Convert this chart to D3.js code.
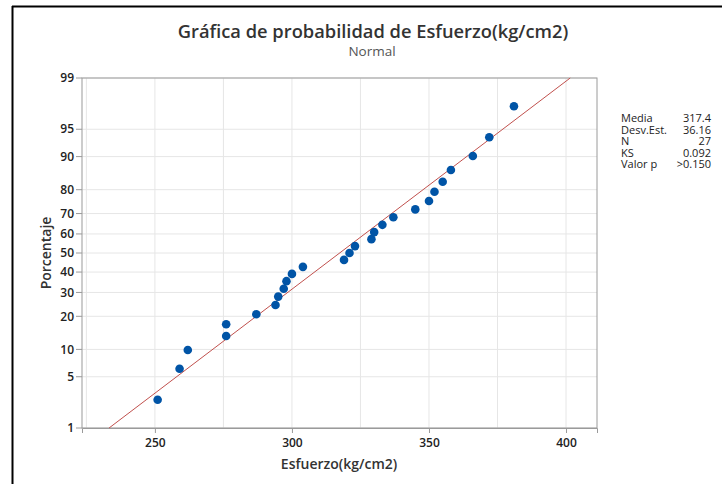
<!DOCTYPE html>
<html>
<head>
<meta charset="utf-8">
<script src="https://cdn.jsdelivr.net/npm/d3@7"></script>
<style>
  body { margin: 0; background: #fff; }
  text { font-family: "Open Sans", "Noto Sans", sans-serif; }
</style>
</head>
<body>
<script>
// data (sorted)
var esfuerzo = [251, 259, 262, 276, 276, 287, 294, 295, 297, 298, 300, 304, 319, 321,
                323, 329, 330, 333, 337, 345, 350, 352, 355, 358, 366, 372, 381];
var media = 317.4;
var desvEst = 36.16;
var statLabels = ['Media', 'Desv.Est.', 'N', 'KS', 'Valor p'];
var statValues = ['317.4', '36.16', '27', '0.092', '>0.150'];
var yTicks = [1, 5, 10, 20, 30, 40, 50, 60, 70, 80, 90, 95, 99];
var xTicks = [250, 300, 350, 400];
var xGrid = [225, 250, 275, 300, 325, 350, 375, 400];

// inverse normal cdf (Acklam)
function qnorm(p) {
  var a = [-39.69683028665376, 220.9460984245205, -275.9285104469687, 138.3577518672690, -30.66479806614716, 2.506628277459239];
  var b = [-54.47609879822406, 161.5858368580409, -155.6989798598866, 66.80131188771972, -13.28068155288572];
  var c = [-0.007784894002430293, -0.3223964580411365, -2.400758277161838, -2.549732539343734, 4.374664141464968, 2.938163982698783];
  var d = [0.007784695709041462, 0.3224671290700398, 2.445134137142996, 3.754408661907416];
  var q, r;
  if (p < 0.02425) {
    q = Math.sqrt(-2 * Math.log(p));
    return (((((c[0]*q+c[1])*q+c[2])*q+c[3])*q+c[4])*q+c[5]) / ((((d[0]*q+d[1])*q+d[2])*q+d[3])*q+1);
  } else if (p > 1 - 0.02425) {
    q = Math.sqrt(-2 * Math.log(1 - p));
    return -(((((c[0]*q+c[1])*q+c[2])*q+c[3])*q+c[4])*q+c[5]) / ((((d[0]*q+d[1])*q+d[2])*q+d[3])*q+1);
  }
  q = p - 0.5; r = q * q;
  return (((((a[0]*r+a[1])*r+a[2])*r+a[3])*r+a[4])*r+a[5])*q / (((((b[0]*r+b[1])*r+b[2])*r+b[3])*r+b[4])*r+1);
}

var width = 722, height = 484;
var pL = 82, pR = 597, pT = 78, pB = 428;

var svg = d3.select('body').append('svg')
  .attr('width', width)
  .attr('height', height);

var x = d3.scaleLinear().domain([223.4, 411.3]).range([pL, pR]);
var y = d3.scaleLinear().domain([qnorm(0.01), qnorm(0.99)]).range([pB, pT]);
var yp = function(pct) { return y(qnorm(pct / 100)); };

// frame
svg.append('line').attr('x1', 12).attr('x2', width).attr('y1', 6.5).attr('y2', 6.5)
  .attr('stroke', '#000').attr('stroke-width', 2);
svg.append('line').attr('x1', 12.5).attr('x2', 12.5).attr('y1', 6).attr('y2', height)
  .attr('stroke', '#000').attr('stroke-width', 2);

// grid
svg.append('g').selectAll('line').data(xGrid).enter().append('line')
  .attr('x1', function(d) { return x(d); }).attr('x2', function(d) { return x(d); })
  .attr('y1', pT).attr('y2', pB)
  .attr('stroke', '#e6e6e6');
svg.append('g').selectAll('line').data(yTicks).enter().append('line')
  .attr('x1', pL).attr('x2', pR)
  .attr('y1', function(d) { return yp(d); }).attr('y2', function(d) { return yp(d); })
  .attr('stroke', '#e6e6e6');

svg.append('rect').attr('x', pL).attr('y', pT)
  .attr('width', pR - pL).attr('height', pB - pT)
  .attr('fill', 'none').attr('stroke', '#9a9a9a');

// x axis
var xAxis = svg.append('g').attr('transform', 'translate(0,' + pB + ')')
  .call(d3.axisBottom(x).tickValues(xTicks).tickSize(5).tickPadding(5));
xAxis.select('.domain').attr('stroke', '#9a9a9a');
xAxis.selectAll('.tick line').attr('stroke', '#9a9a9a');
xAxis.selectAll('.tick text').attr('font-size', 12).attr('font-weight', 600).attr('fill', '#222')
  .attr('font-family', '"Open Sans", sans-serif');

// y axis (probability scale)
var yt = svg.append('g').selectAll('g').data(yTicks).enter().append('g')
  .attr('transform', function(d) { return 'translate(' + pL + ',' + yp(d) + ')'; });
yt.append('line').attr('x1', -6).attr('x2', 0).attr('stroke', '#9a9a9a');
yt.append('text').attr('x', -8).attr('dy', '0.35em').attr('text-anchor', 'end')
  .attr('font-size', 12).attr('font-weight', 600).attr('fill', '#222').text(function(d) { return d; });

// fitted line
var fit = [1, 99].map(function(p) { return [media + qnorm(p / 100) * desvEst, p]; });
svg.append('line')
  .attr('x1', x(fit[0][0])).attr('y1', yp(fit[0][1]))
  .attr('x2', x(fit[1][0])).attr('y2', yp(fit[1][1]))
  .attr('stroke', '#c0504d').attr('stroke-width', 1);

// points, median ranks
var n = esfuerzo.length;
svg.append('g').selectAll('circle').data(esfuerzo).enter().append('circle')
  .attr('cx', function(d) { return x(d); })
  .attr('cy', function(d, i) { return y(qnorm((i + 1 - 0.3) / (n + 0.4))); })
  .attr('r', 4.3)
  .attr('fill', '#0054a6');

// titles
svg.append('text').attr('x', 373).attr('y', 38).attr('text-anchor', 'middle')
  .attr('font-size', 18.3).attr('font-weight', 600).attr('fill', '#333')
  .text('Gráfica de probabilidad de Esfuerzo(kg/cm2)');
svg.append('text').attr('x', 372).attr('y', 56).attr('text-anchor', 'middle')
  .attr('font-size', 13.5).attr('fill', '#555').text('Normal');
svg.append('text').attr('x', 339).attr('y', 469).attr('text-anchor', 'middle')
  .attr('font-size', 14).attr('font-weight', 600).attr('fill', '#333').text('Esfuerzo(kg/cm2)');
svg.append('text').attr('transform', 'translate(51,' + ((pT + pB) / 2) + ') rotate(-90)')
  .attr('text-anchor', 'middle')
  .attr('font-size', 14).attr('font-weight', 600).attr('fill', '#333').text('Porcentaje');

// stats table
var st = svg.append('g').selectAll('g').data(statLabels).enter().append('g')
  .attr('transform', function(d, i) { return 'translate(0,' + (122 + i * 11.6) + ')'; });
st.append('text').attr('x', 621).attr('font-size', 11).attr('fill', '#222')
  .text(function(d) { return d; });
st.append('text').attr('x', 711).attr('text-anchor', 'end').attr('font-size', 11).attr('fill', '#222')
  .text(function(d, i) { return statValues[i]; });
</script>
</body>
</html>
